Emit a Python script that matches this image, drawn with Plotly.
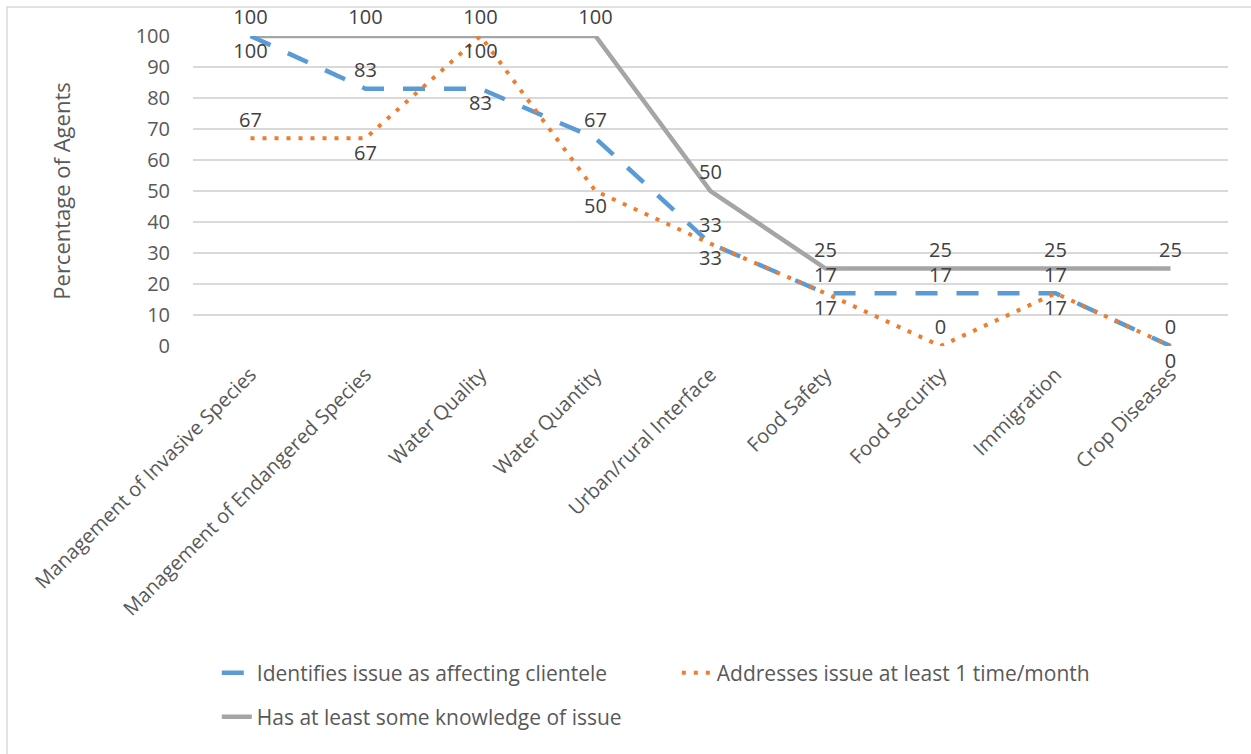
import plotly.graph_objects as go

categories = [
    "Management of Invasive Species",
    "Management of Endangered Species",
    "Water Quality",
    "Water Quantity",
    "Urban/rural Interface",
    "Food Safety",
    "Food Security",
    "Immigration",
    "Crop Diseases",
]
identifies = [100, 83, 83, 67, 33, 17, 17, 17, 0]
addresses = [67, 67, 100, 50, 33, 17, 0, 17, 0]
knowledge = [100, 100, 100, 100, 50, 25, 25, 25, 25]
y_ticks = list(range(0, 101, 10))

# label placements (styling only)
pos_identifies = ["bottom center", "top center", "bottom center", "top center", "top center",
                  "top center", "top center", "top center", "top center"]
pos_addresses = ["top center", "bottom center", "bottom center", "bottom center", "bottom center",
                 "bottom center", "top center", "bottom center", "bottom center"]
pos_knowledge = ["top center"] * 9

FONT = "Open Sans"
LABEL_COLOR = "#404040"
AXIS_COLOR = "#595959"
FS = 20
INVISIBLE = dict(size=9, color="rgba(0,0,0,0)")

fig = go.Figure()
# gray series drawn first so other series' labels sit on top of it
fig.add_trace(go.Scatter(
    x=categories, y=knowledge, name="Has at least some knowledge of issue",
    mode="lines+markers+text", text=[str(v) for v in knowledge], textposition=pos_knowledge,
    textfont=dict(family=FONT, size=FS, color=LABEL_COLOR), marker=INVISIBLE,
    line=dict(color="#A5A5A5", width=4.5),
    cliponaxis=False, legend="legend2",
))
fig.add_trace(go.Scatter(
    x=categories, y=identifies, name="Identifies issue as affecting clientele",
    mode="lines+markers+text", text=[str(v) for v in identifies], textposition=pos_identifies,
    textfont=dict(family=FONT, size=FS, color=LABEL_COLOR), marker=INVISIBLE,
    line=dict(color="#5B9BD5", width=4.5, dash="22px,19px"),
    cliponaxis=False, legend="legend",
))
fig.add_trace(go.Scatter(
    x=categories, y=addresses, name="Addresses issue at least 1 time/month",
    mode="lines+markers+text", text=[str(v) for v in addresses], textposition=pos_addresses,
    textfont=dict(family=FONT, size=FS, color=LABEL_COLOR), marker=INVISIBLE,
    line=dict(color="#ED7D31", width=4, dash="4px,8px"),
    cliponaxis=False, legend="legend",
))

fig.update_layout(
    width=1251, height=754,
    margin=dict(l=193, r=23, t=36, b=408),
    paper_bgcolor="white", plot_bgcolor="white",
    font=dict(family=FONT, size=FS, color=AXIS_COLOR),
    xaxis=dict(
        type="category", tickangle=-45, showgrid=False, zeroline=False, showline=False,
        ticks="outside", ticklen=8, tickcolor="rgba(0,0,0,0)",
        tickfont=dict(family=FONT, size=FS, color=AXIS_COLOR),
        range=[-0.5, len(categories) - 0.5],
    ),
    yaxis=dict(
        range=[0, 100], tickvals=y_ticks, showgrid=True, gridcolor="#D9D9D9", gridwidth=1.5,
        zeroline=False, showline=False,
        ticks="outside", ticklen=18, tickcolor="rgba(0,0,0,0)",
        tickfont=dict(family=FONT, size=FS, color=AXIS_COLOR),
        title=dict(text="Percentage of Agents", standoff=58,
                   font=dict(family=FONT, size=22, color=AXIS_COLOR)),
    ),
    legend=dict(
        orientation="h", x=0.023, y=-1.055, xanchor="left", yanchor="middle",
        entrywidth=415, entrywidthmode="pixels", traceorder="normal",
        font=dict(family=FONT, size=21, color=AXIS_COLOR), bgcolor="rgba(0,0,0,0)",
    ),
    legend2=dict(
        orientation="h", x=0.023, y=-1.197, xanchor="left", yanchor="middle",
        font=dict(family=FONT, size=21, color=AXIS_COLOR), bgcolor="rgba(0,0,0,0)",
    ),
    shapes=[dict(type="rect", xref="paper", yref="paper",
                 x0=-0.1797, y0=-1.5, x1=1.1, y1=1.0935,
                 line=dict(color="#D9D9D9", width=1.5), layer="below")],
)

fig.write_html("out.html")
